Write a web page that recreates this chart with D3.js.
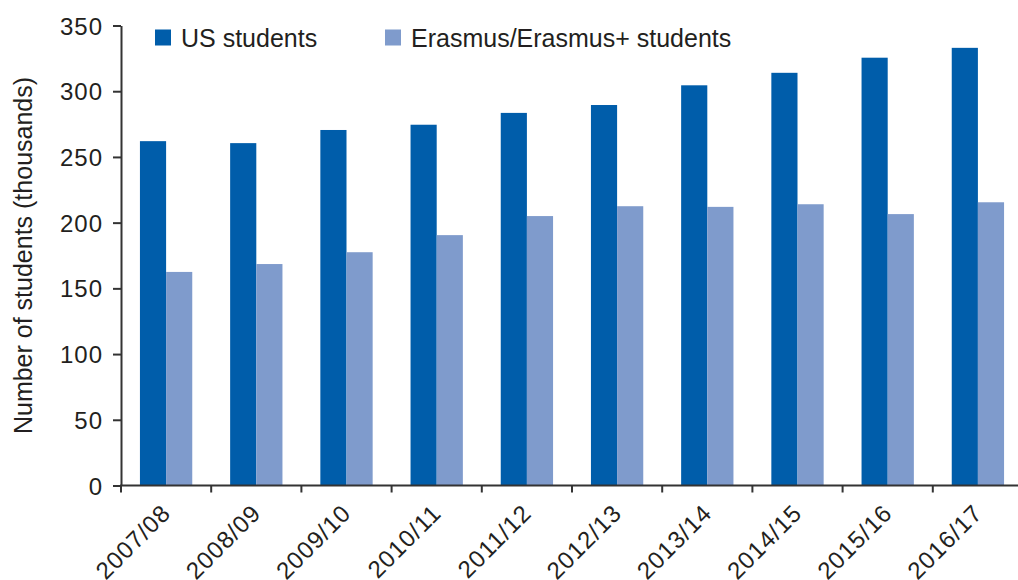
<!DOCTYPE html>
<html>
<head>
<meta charset="utf-8">
<script src="https://cdn.jsdelivr.net/npm/d3@7"></script>
<style>
  body { margin: 0; background: #fff; }
  text { font-family: "Liberation Sans", Arial, sans-serif; fill: #231f20; }
</style>
</head>
<body>
<svg width="1018" height="580"></svg>
<script>
var years = ["2007/08", "2008/09", "2009/10", "2010/11", "2011/12",
             "2012/13", "2013/14", "2014/15", "2015/16", "2016/17"];
var usStudents = [262, 260.5, 270.5, 274.5, 283.5, 289.5, 304.5, 314, 325.5, 333];
var erasmusStudents = [162.5, 168.5, 177.5, 190.5, 205, 212.5, 212, 214, 206.5, 215.5];
var seriesNames = ["US students", "Erasmus/Erasmus+ students"];
var seriesColors = ["#005daa", "#7f9bcc"];
var yTicks = [0, 50, 100, 150, 200, 250, 300, 350];

var svg = d3.select("svg"),
    plotLeft = 121, plotBottom = 485.5, plotTop = 25.5;

var rows = years.map(function(y, i) {
  return { year: y, values: [usStudents[i], erasmusStudents[i]] };
});

var x0 = d3.scaleBand()
    .domain(years)
    .range([plotLeft, plotLeft + 90.2 * years.length])
    .padding(0);

var bw = x0.bandwidth();

var x1 = d3.scaleBand()
    .domain([0, 1])
    .range([bw * 0.21, bw * 0.79]);

var y = d3.scaleLinear()
    .domain([0, 350])
    .range([plotBottom, plotTop]);

// bars
var group = svg.append("g")
    .selectAll("g")
    .data(rows)
    .enter()
    .append("g")
    .attr("transform", function(d) { return "translate(" + x0(d.year) + ",0)"; });

group.selectAll("rect")
    .data(function(d) { return d.values; })
    .enter()
    .append("rect")
    .attr("x", function(d, i) { return x1(i); })
    .attr("width", x1.bandwidth())
    .attr("y", function(d) { return y(d); })
    .attr("height", function(d) { return plotBottom - y(d); })
    .attr("fill", function(d, i) { return seriesColors[i]; });

// y axis
var yAxis = svg.append("g")
    .attr("transform", "translate(" + plotLeft + ",0)")
    .call(d3.axisLeft(y).tickValues(yTicks).tickSize(8).tickSizeOuter(0).tickPadding(10));

yAxis.select(".domain").attr("stroke", "#333").attr("stroke-width", 2);
yAxis.selectAll(".tick line").attr("stroke", "#333").attr("stroke-width", 2);
yAxis.selectAll(".tick text")
    .attr("font-size", 24)
    .attr("letter-spacing", 1)
    .attr("dy", "0.36em")
    .style("font-family", "'Liberation Sans', Arial, sans-serif")
    .attr("fill", "#231f20");

// x axis
var xAxis = svg.append("g");

xAxis.append("line")
    .attr("x1", plotLeft - 1).attr("x2", 1018)
    .attr("y1", plotBottom).attr("y2", plotBottom)
    .attr("stroke", "#333").attr("stroke-width", 2);

xAxis.selectAll(".xtick")
    .data(years)
    .enter()
    .append("line")
    .attr("class", "xtick")
    .attr("x1", function(d) { return x0(d); })
    .attr("x2", function(d) { return x0(d); })
    .attr("y1", plotBottom)
    .attr("y2", plotBottom + 7)
    .attr("stroke", "#333").attr("stroke-width", 2);

xAxis.selectAll(".xlabel")
    .data(years)
    .enter()
    .append("text")
    .attr("class", "xlabel")
    .attr("text-anchor", "end")
    .attr("font-size", 24)
    .attr("letter-spacing", 1)
    .attr("transform", function(d) {
      return "translate(" + (x0(d) + bw / 2 + 6) + "," + (plotBottom + 29) + ") rotate(-45)";
    })
    .text(function(d) { return d; });

// y label
svg.append("text")
    .attr("transform", "translate(32," + ((plotTop + plotBottom) / 2) + ") rotate(-90)")
    .attr("text-anchor", "middle")
    .attr("font-size", 25)
    .text("Number of students (thousands)");

// legend
var legendX = [155, 385];
var legend = svg.append("g")
    .selectAll("g")
    .data(seriesNames)
    .enter()
    .append("g")
    .attr("transform", function(d, i) { return "translate(" + legendX[i] + ",29.5)"; });

legend.append("rect")
    .attr("width", 16)
    .attr("height", 16)
    .attr("fill", function(d, i) { return seriesColors[i]; });

legend.append("text")
    .attr("x", 26)
    .attr("y", 17)
    .attr("font-size", 25)
    .text(function(d) { return d; });
</script>
</body>
</html>
